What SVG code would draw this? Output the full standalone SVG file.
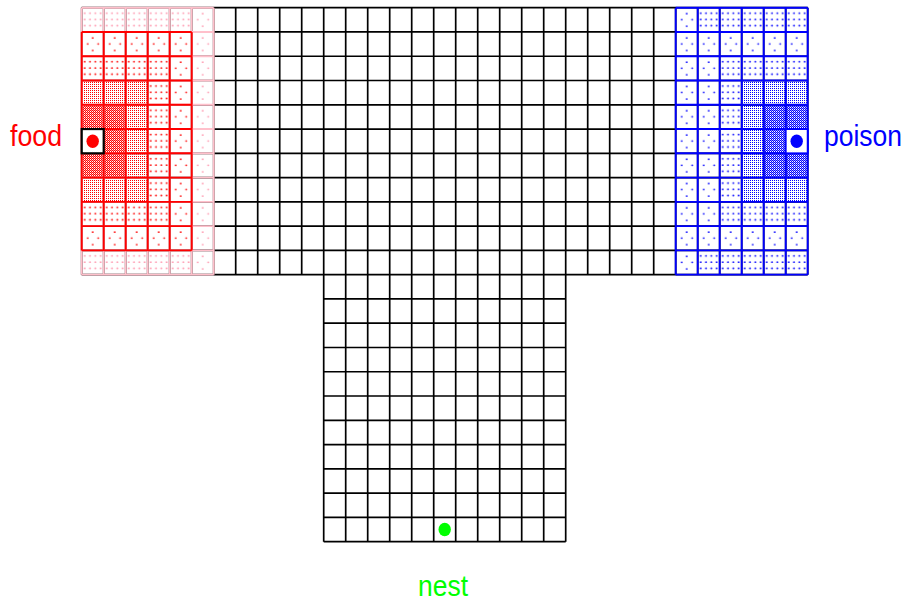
<svg xmlns="http://www.w3.org/2000/svg" width="907" height="603" viewBox="0 0 907 603">
<style>
.grid{fill:none;stroke:#000;stroke-width:1.7}
.gp{fill:none;stroke:#ffc0cb;stroke-width:1.9}
.gr{fill:none;stroke:#ff0000;stroke-width:1.9}
.gb{fill:none;stroke:#0000ff;stroke-width:1.9}
.lbl{font-family:"Liberation Sans",Arial,sans-serif;font-size:29.5px}
.px{shape-rendering:crispEdges}
</style>
<defs>
<g id="dG"><circle cx="3" cy="5.5" r=".9"/><circle cx="8.3" cy="5.5" r=".9"/><circle cx="13.6" cy="5.5" r=".9"/><circle cx="18.9" cy="5.5" r=".9"/><circle cx="3" cy="11.8" r=".9"/><circle cx="8.3" cy="11.8" r=".9"/><circle cx="13.6" cy="11.8" r=".9"/><circle cx="18.9" cy="11.8" r=".9"/><circle cx="3" cy="18" r=".9"/><circle cx="8.3" cy="18" r=".9"/><circle cx="13.6" cy="18" r=".9"/><circle cx="18.9" cy="18" r=".9"/></g>
<g id="dA"><circle cx="11" cy="6" r=".9"/><circle cx="6" cy="12" r=".9"/><circle cx="16.5" cy="12" r=".9"/><circle cx="11" cy="18.5" r=".9"/></g>
<g id="d1" class="px"><rect x="0" y="0" width="1" height="1"/><rect x="1" y="1" width="1" height="1"/><rect x="1" y="0" width="1" height="1" opacity=".45"/></g>
<g id="d2" class="px"><rect x="0" y="0" width="1" height="1"/></g>
<pattern id="pG" patternUnits="userSpaceOnUse" x="81.7" y="7.7" width="22" height="24.27"><use href="#dG" fill="#ff94ac"/></pattern>
<pattern id="pA" patternUnits="userSpaceOnUse" x="81.7" y="7.7" width="22" height="24.27"><use href="#dA" fill="#ff94ac"/></pattern>
<pattern id="rG" patternUnits="userSpaceOnUse" x="81.7" y="7.7" width="22" height="24.27"><use href="#dG" fill="#ff0000"/></pattern>
<pattern id="rA" patternUnits="userSpaceOnUse" x="81.7" y="7.7" width="22" height="24.27"><use href="#dA" fill="#ff0000"/></pattern>
<pattern id="r1" patternUnits="userSpaceOnUse" x="0" y="0" width="2" height="2"><use href="#d1" fill="#ff0000"/></pattern>
<pattern id="r2" patternUnits="userSpaceOnUse" x="0" y="0" width="2" height="2"><use href="#d2" fill="#ff0000"/></pattern>
<pattern id="bG" patternUnits="userSpaceOnUse" x="81.7" y="7.7" width="22" height="24.27"><use href="#dG" fill="#0000ff"/></pattern>
<pattern id="bA" patternUnits="userSpaceOnUse" x="81.7" y="7.7" width="22" height="24.27"><use href="#dA" fill="#0000ff"/></pattern>
<pattern id="b1" patternUnits="userSpaceOnUse" x="0" y="0" width="2" height="2"><use href="#d1" fill="#0000ff"/></pattern>
<pattern id="b2" patternUnits="userSpaceOnUse" x="0" y="0" width="2" height="2"><use href="#d2" fill="#0000ff"/></pattern>
</defs>
<rect width="907" height="603" fill="#fff"/>

<g id="grid">
<path class="grid" d="M81.7 7.7H807.7M81.7 31.97H807.7M81.7 56.24H807.7M81.7 80.51H807.7M81.7 104.78H807.7M81.7 129.05H807.7M81.7 153.32H807.7M81.7 177.59H807.7M81.7 201.86H807.7M81.7 226.13H807.7M81.7 250.4H807.7M81.7 274.67H807.7
M323.7 298.94H565.7M323.7 323.21H565.7M323.7 347.48H565.7M323.7 371.75H565.7M323.7 396.02H565.7M323.7 420.29H565.7M323.7 444.56H565.7M323.7 468.83H565.7M323.7 493.1H565.7M323.7 517.37H565.7M323.7 541.64H565.7
M81.7 7.7V274.67M103.7 7.7V274.67M125.7 7.7V274.67M147.7 7.7V274.67M169.7 7.7V274.67M191.7 7.7V274.67M213.7 7.7V274.67M235.7 7.7V274.67M257.7 7.7V274.67M279.7 7.7V274.67M301.7 7.7V274.67
M323.7 7.7V541.64M345.7 7.7V541.64M367.7 7.7V541.64M389.7 7.7V541.64M411.7 7.7V541.64M433.7 7.7V541.64M455.7 7.7V541.64M477.7 7.7V541.64M499.7 7.7V541.64M521.7 7.7V541.64M543.7 7.7V541.64M565.7 7.7V541.64
M587.7 7.7V274.67M609.7 7.7V274.67M631.7 7.7V274.67M653.7 7.7V274.67M675.7 7.7V274.67M697.7 7.7V274.67M719.7 7.7V274.67M741.7 7.7V274.67M763.7 7.7V274.67M785.7 7.7V274.67M807.7 7.7V274.67"/>
</g>

<g id="food-field">
<rect x="81.7" y="7.7" width="110" height="24.27" fill="url(#pG)"/>
<rect x="81.7" y="250.4" width="110" height="24.27" fill="url(#pG)"/>
<rect x="191.7" y="7.7" width="22" height="266.97" fill="url(#pA)"/>
<rect x="81.7" y="31.97" width="110" height="24.27" fill="url(#rA)"/>
<rect x="81.7" y="226.13" width="110" height="24.27" fill="url(#rA)"/>
<rect x="169.7" y="56.24" width="22" height="169.89" fill="url(#rA)"/>
<rect x="81.7" y="56.24" width="88" height="24.27" fill="url(#rG)"/>
<rect x="81.7" y="201.86" width="88" height="24.27" fill="url(#rG)"/>
<rect x="147.7" y="80.51" width="22" height="121.35" fill="url(#rG)"/>
<rect x="81.7" y="80.51" width="66" height="24.27" fill="url(#r2)"/>
<rect x="81.7" y="177.59" width="66" height="24.27" fill="url(#r2)"/>
<rect x="125.7" y="104.78" width="22" height="72.81" fill="url(#r2)"/>
<rect x="81.7" y="104.78" width="44" height="24.27" fill="url(#r1)"/>
<rect x="81.7" y="153.32" width="44" height="24.27" fill="url(#r1)"/>
<rect x="103.7" y="129.05" width="22" height="24.27" fill="url(#r1)"/>
<path class="gp" d="M81.7 7.7H213.7M81.7 31.97H213.7M81.7 56.24H213.7M81.7 80.51H213.7M81.7 104.78H213.7M81.7 129.05H213.7M81.7 153.32H213.7M81.7 177.59H213.7M81.7 201.86H213.7M81.7 226.13H213.7M81.7 250.4H213.7M81.7 274.67H213.7M81.7 7.7V274.67M103.7 7.7V274.67M125.7 7.7V274.67M147.7 7.7V274.67M169.7 7.7V274.67M191.7 7.7V274.67M213.7 7.7V274.67"/>
<path class="gr" d="M81.7 31.97H191.7M81.7 56.24H191.7M81.7 80.51H191.7M81.7 104.78H191.7M81.7 129.05H191.7M81.7 153.32H191.7M81.7 177.59H191.7M81.7 201.86H191.7M81.7 226.13H191.7M81.7 250.4H191.7M81.7 31.97V250.4M103.7 31.97V250.4M125.7 31.97V250.4M147.7 31.97V250.4M169.7 31.97V250.4M191.7 31.97V250.4"/>
</g>

<g id="poison-field">
<rect x="675.7" y="7.7" width="22" height="266.97" fill="url(#bA)"/>
<rect x="697.7" y="31.97" width="110" height="24.27" fill="url(#bA)"/>
<rect x="697.7" y="226.13" width="110" height="24.27" fill="url(#bA)"/>
<rect x="697.7" y="56.24" width="22" height="169.89" fill="url(#bA)"/>
<rect x="697.7" y="7.7" width="110" height="24.27" fill="url(#bG)"/>
<rect x="697.7" y="250.4" width="110" height="24.27" fill="url(#bG)"/>
<rect x="719.7" y="56.24" width="88" height="24.27" fill="url(#bG)"/>
<rect x="719.7" y="201.86" width="88" height="24.27" fill="url(#bG)"/>
<rect x="719.7" y="80.51" width="22" height="121.35" fill="url(#bG)"/>
<rect x="741.7" y="80.51" width="66" height="24.27" fill="url(#b2)"/>
<rect x="741.7" y="177.59" width="66" height="24.27" fill="url(#b2)"/>
<rect x="741.7" y="104.78" width="22" height="72.81" fill="url(#b2)"/>
<rect x="763.7" y="104.78" width="44" height="24.27" fill="url(#b1)"/>
<rect x="763.7" y="153.32" width="44" height="24.27" fill="url(#b1)"/>
<rect x="763.7" y="129.05" width="22" height="24.27" fill="url(#b1)"/>
<path class="gb" d="M675.7 7.7H807.7M675.7 31.97H807.7M675.7 56.24H807.7M675.7 80.51H807.7M675.7 104.78H807.7M675.7 129.05H807.7M675.7 153.32H807.7M675.7 177.59H807.7M675.7 201.86H807.7M675.7 226.13H807.7M675.7 250.4H807.7M675.7 274.67H807.7M675.7 7.7V274.67M697.7 7.7V274.67M719.7 7.7V274.67M741.7 7.7V274.67M763.7 7.7V274.67M785.7 7.7V274.67M807.7 7.7V274.67"/>
</g>

<g id="food">
<rect x="81.7" y="129.05" width="22" height="24.27" fill="#fff" stroke="#000" stroke-width="2.2"/>
<ellipse cx="92.7" cy="141.2" rx="6.2" ry="6.7" fill="#ff0000"/>
<text class="lbl" x="10" y="146" fill="#ff0000" textLength="52" lengthAdjust="spacingAndGlyphs">food</text>
</g>

<g id="poison">
<rect x="785.7" y="129.05" width="22" height="24.27" fill="#fff" stroke="#0000ff" stroke-width="1.9"/>
<ellipse cx="796.7" cy="141.2" rx="6.2" ry="6.7" fill="#0000ff"/>
<text class="lbl" x="824" y="146" fill="#0000ff" textLength="78" lengthAdjust="spacingAndGlyphs">poison</text>
</g>

<g id="nest">
<ellipse cx="444.7" cy="529.5" rx="6.2" ry="6.7" fill="#00ff00"/>
<text class="lbl" x="418" y="596" fill="#00ff00" textLength="50" lengthAdjust="spacingAndGlyphs">nest</text>
</g>
</svg>
